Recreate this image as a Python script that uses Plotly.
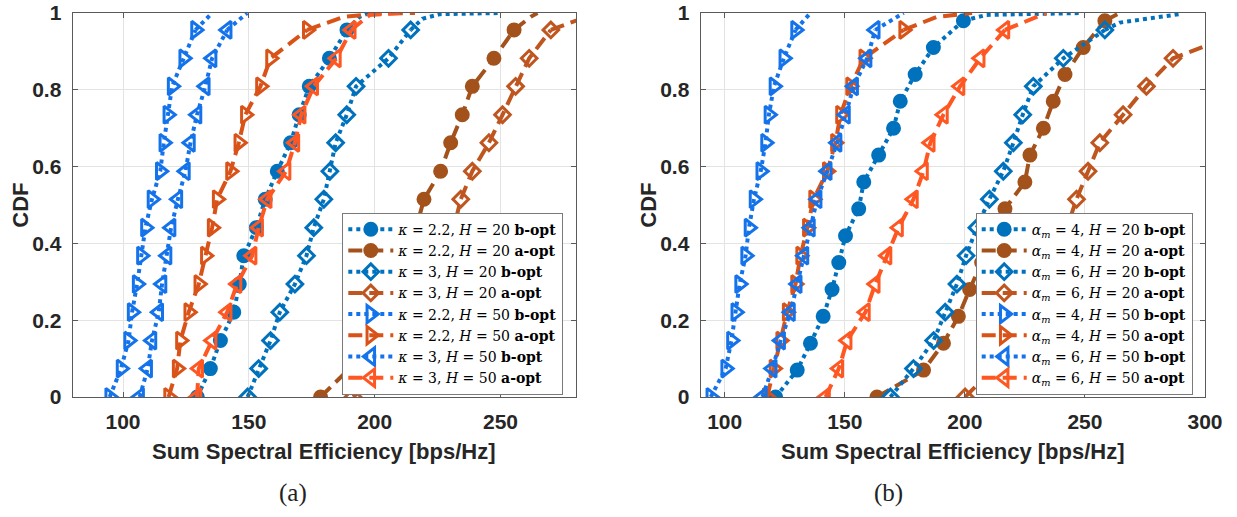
import plotly.graph_objects as go

# CDF levels at which markers are placed
CDF_A = [0.000, 0.074, 0.147, 0.221, 0.294, 0.368, 0.441, 0.515, 0.588, 0.662, 0.735, 0.809, 0.882, 0.956]
CDF_B = [0.000, 0.070, 0.140, 0.210, 0.280, 0.350, 0.420, 0.490, 0.560, 0.630, 0.700, 0.770, 0.840, 0.910, 0.980]

# ---- (a): path-loss exponent kappa ----
A_K22_H20_B = [129.5, 134.7, 138.7, 144.0, 146.2, 148.0, 153.0, 156.5, 161.3, 166.6, 170.0, 174.0, 182.0, 189.0]
A_K22_H20_B_TAIL = ([194.0, 198.0], [0.990, 1.000])
A_K22_H20_A = [178.5, 190.0, 198.0, 204.0, 209.0, 213.0, 216.5, 219.6, 226.2, 230.2, 234.8, 238.8, 247.4, 255.4]
A_K22_H20_A_TAIL = ([262.0, 264.7], [0.990, 1.000])
A_K3_H20_B = [149.5, 153.9, 158.6, 162.3, 168.3, 172.9, 175.8, 179.8, 182.2, 184.5, 188.9, 192.6, 205.5, 214.3]
A_K3_H20_B_TAIL = ([219.0, 226.0, 250.0], [0.985, 0.997, 1.000])
A_K3_H20_A = [191.4, 205.0, 213.0, 219.0, 224.0, 228.0, 231.5, 234.2, 238.8, 245.4, 250.8, 256.0, 261.4, 270.0]
A_K3_H20_A_TAIL = ([280.0, 290.0], [0.980, 0.990])
A_K22_H50_B = [94.7, 99.2, 102.2, 103.6, 105.6, 107.3, 108.9, 111.5, 114.8, 116.2, 117.8, 119.5, 124.1, 128.8]
A_K22_H50_B_TAIL = ([135.4], [1.000])
A_K22_H50_A = [118.1, 121.5, 122.8, 126.1, 130.1, 132.7, 135.4, 137.4, 142.7, 146.0, 148.6, 154.6, 158.6, 173.2]
A_K22_H50_A_TAIL = ([187.8, 200.0, 216.0], [0.990, 0.998, 1.000])
A_K3_H50_B = [106.6, 109.8, 111.5, 114.2, 115.5, 117.5, 119.1, 121.8, 124.8, 126.8, 129.4, 132.7, 135.4, 141.4]
A_K3_H50_B_TAIL = ([149.3], [1.000])
A_K3_H50_A = [129.4, 130.1, 135.4, 141.4, 145.3, 151.3, 153.9, 157.3, 164.8, 168.3, 170.8, 175.8, 184.8, 190.7]
A_K3_H50_A_TAIL = ([198.0, 210.0], [0.995, 1.000])

# ---- (b): number of antennas alpha_m ----
B_A4_H20_B = [121.2, 130.2, 135.7, 141.0, 144.7, 147.5, 150.3, 155.8, 157.9, 164.1, 170.3, 173.1, 179.3, 186.9, 199.4]
B_A4_H20_B_TAIL = ([209.0, 249.0], [0.995, 1.000])
B_A4_H20_A = [163.4, 182.8, 191.1, 197.3, 202.0, 207.0, 212.0, 216.7, 225.0, 227.1, 232.7, 236.8, 241.7, 249.3, 258.3]
B_A4_H20_A_TAIL = ([264.5], [1.000])
B_A6_H20_B = [169.0, 178.6, 187.0, 191.8, 196.7, 200.5, 205.0, 210.2, 216.0, 220.2, 224.1, 228.5, 241.0, 258.3]
B_A6_H20_B_TAIL = ([264.5, 289.4], [0.975, 0.997])
B_A6_H20_A = [200.1, 212.0, 220.0, 227.0, 233.0, 238.0, 242.5, 246.5, 251.3, 256.2, 265.9, 275.6, 286.7, 318.0]
B_A6_H20_A_TAIL = ([335.0], [0.990])
B_A4_H50_B = [94.2, 100.4, 102.8, 104.6, 106.2, 108.7, 110.1, 112.2, 115.0, 117.0, 118.4, 120.5, 124.6, 129.5]
B_A4_H50_B_TAIL = ([135.7], [1.000])
B_A4_H50_A = [117.7, 120.5, 123.3, 126.0, 129.5, 131.6, 134.4, 137.0, 142.7, 146.1, 148.2, 152.4, 157.9, 174.5]
B_A4_H50_A_TAIL = ([188.4, 203.0], [0.990, 1.000])
B_A6_H50_B = [115.7, 119.8, 123.3, 127.4, 130.2, 133.0, 135.7, 138.5, 142.7, 146.8, 150.3, 153.7, 159.3, 162.7]
B_A6_H50_B_TAIL = ([174.5], [1.000])
B_A6_H50_A = [142.0, 147.5, 151.0, 158.6, 162.7, 167.6, 172.4, 178.6, 182.8, 185.6, 191.1, 198.0, 206.4, 216.7]
B_A6_H50_A_TAIL = ([234.0], [1.000])

LABELS_A = [
    "<i>κ</i> = 2.2, <i>H</i> = 20 <b>b-opt</b>",
    "<i>κ</i> = 2.2, <i>H</i> = 20 <b>a-opt</b>",
    "<i>κ</i> = 3, <i>H</i> = 20 <b>b-opt</b>",
    "<i>κ</i> = 3, <i>H</i> = 20 <b>a-opt</b>",
    "<i>κ</i> = 2.2, <i>H</i> = 50 <b>b-opt</b>",
    "<i>κ</i> = 2.2, <i>H</i> = 50 <b>a-opt</b>",
    "<i>κ</i> = 3, <i>H</i> = 50 <b>b-opt</b>",
    "<i>κ</i> = 3, <i>H</i> = 50 <b>a-opt</b>",
]
LABELS_B = [
    "<i>α<sub>m</sub></i> = 4, <i>H</i> = 20 <b>b-opt</b>",
    "<i>α<sub>m</sub></i> = 4, <i>H</i> = 20 <b>a-opt</b>",
    "<i>α<sub>m</sub></i> = 6, <i>H</i> = 20 <b>b-opt</b>",
    "<i>α<sub>m</sub></i> = 6, <i>H</i> = 20 <b>a-opt</b>",
    "<i>α<sub>m</sub></i> = 4, <i>H</i> = 50 <b>b-opt</b>",
    "<i>α<sub>m</sub></i> = 4, <i>H</i> = 50 <b>a-opt</b>",
    "<i>α<sub>m</sub></i> = 6, <i>H</i> = 50 <b>b-opt</b>",
    "<i>α<sub>m</sub></i> = 6, <i>H</i> = 50 <b>a-opt</b>",
]

# line / marker styles shared by both panels (same order as the labels)
BLUE, BLUE_T = "#0072BD", "#1473EB"
BROWN_C, BROWN_D, ORANGE, RED = "#A3521C", "#BF5620", "#D95319", "#FF5722"
DOT, DASH = "dot", "14px,7px"
STYLES = [
    (BLUE, DOT, "circle", 12),
    (BROWN_C, DASH, "circle", 12),
    (BLUE, DOT, "diamond-open", 12),
    (BROWN_D, DASH, "diamond-open", 12),
    (BLUE_T, DOT, "triangle-right-open", 15),
    (ORANGE, DASH, "triangle-right-open", 15),
    (BLUE_T, DOT, "triangle-left-open", 15),
    (RED, DASH, "triangle-left-open", 15),
]

PANEL_A = [
    (A_K22_H20_B, CDF_A, A_K22_H20_B_TAIL),
    (A_K22_H20_A, CDF_A, A_K22_H20_A_TAIL),
    (A_K3_H20_B, CDF_A, A_K3_H20_B_TAIL),
    (A_K3_H20_A, CDF_A, A_K3_H20_A_TAIL),
    (A_K22_H50_B, CDF_A, A_K22_H50_B_TAIL),
    (A_K22_H50_A, CDF_A, A_K22_H50_A_TAIL),
    (A_K3_H50_B, CDF_A, A_K3_H50_B_TAIL),
    (A_K3_H50_A, CDF_A, A_K3_H50_A_TAIL),
]
PANEL_B = [
    (B_A4_H20_B, CDF_B, B_A4_H20_B_TAIL),
    (B_A4_H20_A, CDF_B, B_A4_H20_A_TAIL),
    (B_A6_H20_B, CDF_A, B_A6_H20_B_TAIL),
    (B_A6_H20_A, CDF_A, B_A6_H20_A_TAIL),
    (B_A4_H50_B, CDF_A, B_A4_H50_B_TAIL),
    (B_A4_H50_A, CDF_A, B_A4_H50_A_TAIL),
    (B_A6_H50_B, CDF_A, B_A6_H50_B_TAIL),
    (B_A6_H50_A, CDF_A, B_A6_H50_A_TAIL),
]

W, H = 1237, 517
fig = go.Figure()


def add_panel(series, labels, xa, ya, legend_name):
    for (xs, ys, tail), label, (color, dash, symbol, size) in zip(series, labels, STYLES):
        lw = 4
        # tail of the CDF curve beyond the last marker
        fig.add_trace(go.Scatter(
            x=[xs[-1]] + tail[0], y=[ys[len(xs) - 1]] + tail[1],
            mode="lines", line=dict(color=color, width=lw, dash=dash),
            showlegend=False, hoverinfo="skip", xaxis=xa, yaxis=ya,
        ))
        fig.add_trace(go.Scatter(
            x=xs, y=ys[:len(xs)], name=label, mode="lines+markers",
            line=dict(color=color, width=lw, dash=dash),
            marker=dict(symbol=symbol, size=size, color=color,
                        line=dict(color=color, width=3)),
            xaxis=xa, yaxis=ya, legend=legend_name,
        ))


add_panel(PANEL_A, LABELS_A, "x", "y", "legend")
add_panel(PANEL_B, LABELS_B, "x2", "y2", "legend2")

# plot areas in pixels
LEFT_A, RIGHT_A = 72.7, 576.0
LEFT_B, RIGHT_B = 700.7, 1205.0
TOP, BOTTOM = 13.0, 397.0

tickfont = dict(family="Liberation Sans", size=21, color="#262626", weight="bold")
axis_common = dict(
    showline=True, linecolor="#5a5a5a", linewidth=1.2, mirror="ticks",
    ticks="inside", ticklen=5, tickcolor="#5a5a5a",
    showgrid=True, gridcolor="#e3e3e3", gridwidth=1,
    zeroline=False, tickfont=tickfont, automargin=False,
)
yvals = [0, 0.2, 0.4, 0.6, 0.8, 1]
ytext = ["0", "0.2", "0.4", "0.6", "0.8", "1"]
ydomain = [(H - BOTTOM) / H, (H - TOP) / H]

fig.update_layout(
    width=W, height=H, margin=dict(l=0, r=0, t=0, b=0),
    paper_bgcolor="white", plot_bgcolor="white",
    xaxis=dict(domain=[LEFT_A / W, RIGHT_A / W], range=[80, 280],
               tickvals=[100, 150, 200, 250], anchor="y", ticklabelstandoff=6, **axis_common),
    yaxis=dict(domain=ydomain, range=[0, 1], tickvals=yvals, ticktext=ytext,
               anchor="x", ticklabelstandoff=6, **axis_common),
    xaxis2=dict(domain=[LEFT_B / W, RIGHT_B / W], range=[90, 300],
                tickvals=[100, 150, 200, 250, 300], anchor="y2", ticklabelstandoff=6,
                **axis_common),
    yaxis2=dict(domain=ydomain, range=[0, 1], tickvals=yvals, ticktext=ytext,
                anchor="x2", ticklabelstandoff=6, **axis_common),
)

legend_style = dict(
    xanchor="right", yanchor="top", y=(H - 212.7) / H,
    bgcolor="white", bordercolor="#7a7a7a", borderwidth=1,
    font=dict(family="DejaVu Serif", size=14, color="black"),
    tracegroupgap=0, itemwidth=45,
)
fig.update_layout(
    legend=dict(x=563.3 / W, **legend_style),
    legend2=dict(x=1192.7 / W, **legend_style),
)

title_font = dict(family="Liberation Sans", size=22, color="#262626", weight="bold")
annotations = []
for left, right, tag, tag_x in [(LEFT_A, RIGHT_A, "(a)", 293), (LEFT_B, RIGHT_B, "(b)", 888)]:
    cx = (left + right) / 2 / W
    annotations.append(dict(text="Sum Spectral Efficiency [bps/Hz]", x=cx, y=(H - 451) / H,
                            xref="paper", yref="paper", xanchor="center", yanchor="middle",
                            showarrow=False, font=title_font))
    annotations.append(dict(text="CDF", x=(left - 52) / W, y=(H - (TOP + BOTTOM) / 2) / H,
                            xref="paper", yref="paper", xanchor="center", yanchor="middle",
                            showarrow=False, textangle=-90, font=title_font))
    annotations.append(dict(text=tag, x=tag_x / W, y=(H - 493) / H, xref="paper", yref="paper",
                            xanchor="center", yanchor="middle", showarrow=False,
                            font=dict(family="Liberation Serif", size=25, color="#222222")))
fig.update_layout(annotations=annotations)

fig.write_html("out.html")
